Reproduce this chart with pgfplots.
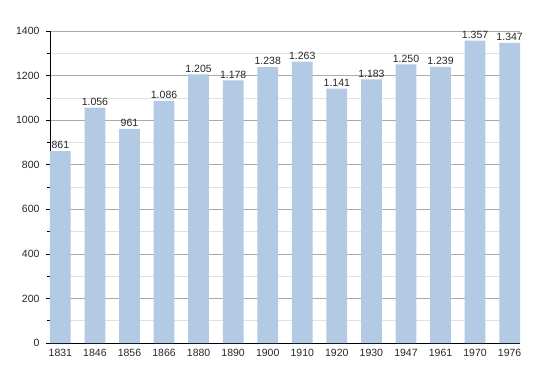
\documentclass[border=0pt]{standalone}
\usepackage{pgfplots}
\pgfplotsset{compat=1.18}
\usepackage{fontspec}
\setmainfont{Liberation Sans}
\definecolor{barblue}{RGB}{178,202,228}
\definecolor{majgrid}{RGB}{170,170,170}
\definecolor{mingrid}{RGB}{225,225,225}
\begin{document}
\begin{tikzpicture}
\useasboundingbox (-50pt,-30pt) rectangle (500pt,343pt);
\begin{axis}[
  scale only axis, width=470pt, height=312pt,
  at={(0,0)}, anchor=south west,
  xmin=-0.3, xmax=13.3, ymin=0, ymax=1400,
  ytick={0,200,...,1400}, minor ytick={100,300,...,1300},
  xtick={0,...,13},
  xticklabels={1831,1846,1856,1866,1880,1890,1900,1910,1920,1930,1947,1961,1970,1976},
  axis x line*=bottom, axis y line*=left,
  axis line style={black, line width=0.8pt, -},
  ymajorgrids, yminorgrids,
  major grid style={majgrid, line width=0.6pt},
  minor grid style={mingrid, line width=0.6pt},
  major tick length=4pt, minor tick length=3pt,
  xtick style={draw=none},
  ytick style={black, line width=0.6pt},
  tick align=outside,
  yticklabel style={/pgf/number format/1000 sep={}, font=\fontsize{10.5}{11}\selectfont, xshift=-3pt},
  xticklabel style={font=\fontsize{10.5}{11}\selectfont, yshift=1pt},
  /pgf/number format/assume math mode=true,
  tick label style={text=black!85},
  ybar, bar width=0.6,
  nodes near coords={\pgfmathprintnumber[1000 sep={.}]{\pgfplotspointmeta}},
  nodes near coords style={font=\fontsize{10.5}{11}\selectfont, black!85, inner sep=2pt},
]
\addplot[fill=barblue, draw=none] coordinates {
(0,861) (1,1056) (2,961) (3,1086) (4,1205) (5,1178) (6,1238)
(7,1263) (8,1141) (9,1183) (10,1250) (11,1239) (12,1357) (13,1347)};
\end{axis}
\end{tikzpicture}
\end{document}
